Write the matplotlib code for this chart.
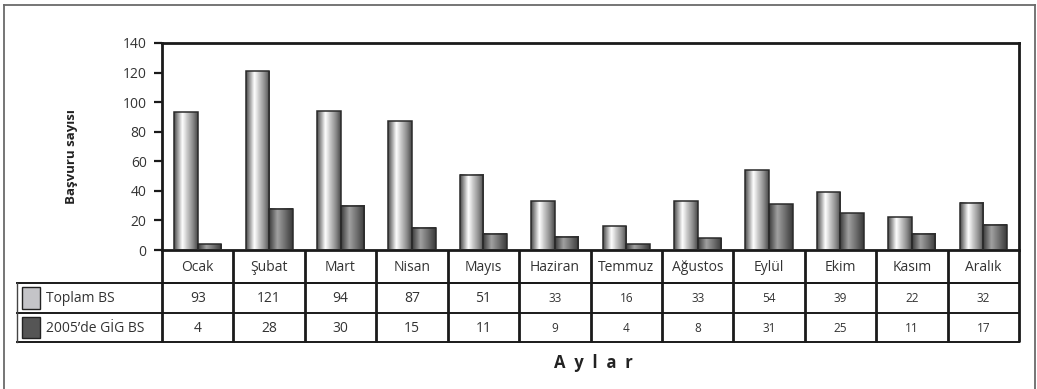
import numpy as np
import matplotlib.pyplot as plt
from matplotlib.colors import LinearSegmentedColormap
from matplotlib.patches import Rectangle

months = ["Ocak", "Şubat", "Mart", "Nisan", "Mayıs", "Haziran", "Temmuz",
          "Ağustos", "Eylül", "Ekim", "Kasım", "Aralık"]
toplam_bs = [93, 121, 94, 87, 51, 33, 16, 33, 54, 39, 22, 32]
gig_bs = [4, 28, 30, 15, 11, 9, 4, 8, 31, 25, 11, 17]
series_names = ["Toplam BS", "2005’de GİG BS"]
y_ticks = [0, 20, 40, 60, 80, 100, 120, 140]

plt.rcParams['font.family'] = ['Open Sans', 'DejaVu Sans']

W, H = 1037, 389
fig = plt.figure(figsize=(W / 100, H / 100), dpi=100)
fig.patch.set_facecolor('white')

# outer frame (open at the bottom)
frame_col = '#6a6a6a'
fig.add_artist(plt.Line2D([4 / W, 4 / W], [0, 1 - 5 / H], transform=fig.transFigure,
                          color=frame_col, lw=1.3))
fig.add_artist(plt.Line2D([4 / W, 1035 / W], [1 - 5 / H, 1 - 5 / H], transform=fig.transFigure,
                          color=frame_col, lw=1.3))
fig.add_artist(plt.Line2D([1035 / W, 1035 / W], [0, 1 - 5 / H], transform=fig.transFigure,
                          color=frame_col, lw=1.3))

ax_left, ax_right = 162, 1019
ax_top, ax_bot = 43, 250
ax = fig.add_axes([ax_left / W, 1 - ax_bot / H, (ax_right - ax_left) / W, (ax_bot - ax_top) / H])

# cylinder-style shading for the two series
cm_light = LinearSegmentedColormap.from_list(
    'light', [(0, '#4a4a4a'), (0.12, '#8a8a8a'), (0.35, '#ffffff'),
              (0.55, '#c8c8c8'), (0.8, '#8a8a8a'), (1, '#4a4a4a')])
cm_dark = LinearSegmentedColormap.from_list(
    'dark', [(0, '#3c3c3c'), (0.35, '#a0a0a0'), (0.6, '#7a7a7a'),
             (1, '#3a3a3a')])
grad = np.linspace(0, 1, 64).reshape(1, -1)

bw = 0.33
x = np.arange(len(months))
for i in range(len(months)):
    for val, off, cmap in ((toplam_bs[i], -bw / 2, cm_light), (gig_bs[i], bw / 2, cm_dark)):
        x0 = x[i] + off - bw / 2
        ax.imshow(grad, extent=[x0, x0 + bw, 0, val], aspect='auto', cmap=cmap,
                  interpolation='bilinear', zorder=2)
        ax.add_patch(Rectangle((x0, 0), bw, val, fill=False, edgecolor='#2a2a2a',
                               lw=1.1, zorder=3))

ax.set_xlim(-0.5, len(months) - 0.5)
ax.set_ylim(0, 140)
ax.set_yticks(y_ticks)
ax.set_xticks([])
ax.tick_params(axis='y', direction='out', length=6, width=1.6, color='#1a1a1a',
               labelsize=10, labelcolor='#333333', pad=5)
for s in ax.spines.values():
    s.set_linewidth(2.0)
    s.set_color('#1a1a1a')
ax.set_ylabel('Başvuru sayısı', fontsize=9.5, fontweight='bold', color='#222222')
ax.yaxis.set_label_coords(-0.098, 0.45)

# data table below the plot
tb_top, tb_bot = 250, 342
tax = fig.add_axes([ax_left / W, 1 - tb_bot / H, (ax_right - ax_left) / W, (tb_bot - tb_top) / H])
tax.set_xlim(-0.5, len(months) - 0.5)
tax.set_ylim(tb_bot - tb_top, 0)
tax.axis('off')

rows = [0, 33, 63, 92]
units_per_px = len(months) / (ax_right - ax_left)
leg_left = -0.5 - (ax_left - 17) * units_per_px
line_col = '#1a1a1a'

for k in range(len(months) + 1):
    tax.plot([k - 0.5, k - 0.5], [rows[0], rows[3]], color=line_col, lw=2.0,
             solid_capstyle='butt', clip_on=False)
tax.plot([-0.5, len(months) - 0.5], [rows[1], rows[1]], color=line_col, lw=1.4, clip_on=False)
for r in (rows[1], rows[2], rows[3]):
    tax.plot([leg_left, len(months) - 0.5], [r, r], color=line_col, lw=1.4, clip_on=False)
tax.plot([leg_left, leg_left], [rows[1], rows[3]], color='#444444', lw=1.0, clip_on=False)

txt_col = '#333333'
for i, m in enumerate(months):
    tax.text(x[i], (rows[0] + rows[1]) / 2 + 1, m, ha='center', va='center',
             fontsize=10, color=txt_col)
    fs = 10 if i < 5 else 8.5
    tax.text(x[i], (rows[1] + rows[2]) / 2 + 1, str(toplam_bs[i]), ha='center', va='center',
             fontsize=fs, color=txt_col)
    tax.text(x[i], (rows[2] + rows[3]) / 2 + 1, str(gig_bs[i]), ha='center', va='center',
             fontsize=fs, color=txt_col)

# legend keys inside the table
sw_w = (40 - 22) * units_per_px
sw_x = leg_left + (22 - 17) * units_per_px
for (r0, r1), face, name in zip(((rows[1], rows[2]), (rows[2], rows[3])),
                                ('#c4c4c8', '#555555'), series_names):
    tax.add_patch(Rectangle((sw_x, r0 + 4), sw_w, (r1 - r0) - 8, facecolor=face,
                            edgecolor='#222222', lw=1.0, clip_on=False))
    tax.text(sw_x + sw_w + 6 * units_per_px, (r0 + r1) / 2 + 1, name, ha='left', va='center',
             fontsize=10, color=txt_col, clip_on=False)

fig.text(593 / W, 1 - 363 / H, 'A  y  l  a  r', ha='center', va='center', fontsize=12,
         fontweight='bold', color='#222222')

fig.savefig('out.png', dpi=100, facecolor='white')
